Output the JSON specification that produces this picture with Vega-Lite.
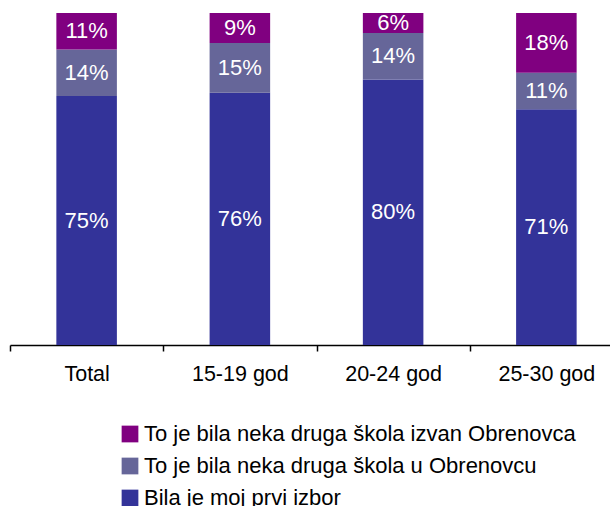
{
  "$schema": "https://vega.github.io/schema/vega-lite/v6.json",
  "width": 613,
  "height": 332,
  "autosize": {"type": "none"},
  "padding": {"left": 10, "top": 13, "right": 0, "bottom": 161},
  "config": {
    "font": "Liberation Sans",
    "view": {"stroke": null}
  },
  "data": {
    "values": [
      {"grupa": "Total", "odgovor": "Bila je moj prvi izbor", "red": 1, "udio": 0.75},
      {"grupa": "Total", "odgovor": "To je bila neka druga škola u Obrenovcu", "red": 2, "udio": 0.14},
      {"grupa": "Total", "odgovor": "To je bila neka druga škola izvan Obrenovca", "red": 3, "udio": 0.11},
      {"grupa": "15-19 god", "odgovor": "Bila je moj prvi izbor", "red": 1, "udio": 0.76},
      {"grupa": "15-19 god", "odgovor": "To je bila neka druga škola u Obrenovcu", "red": 2, "udio": 0.15},
      {"grupa": "15-19 god", "odgovor": "To je bila neka druga škola izvan Obrenovca", "red": 3, "udio": 0.09},
      {"grupa": "20-24 god", "odgovor": "Bila je moj prvi izbor", "red": 1, "udio": 0.80},
      {"grupa": "20-24 god", "odgovor": "To je bila neka druga škola u Obrenovcu", "red": 2, "udio": 0.14},
      {"grupa": "20-24 god", "odgovor": "To je bila neka druga škola izvan Obrenovca", "red": 3, "udio": 0.06},
      {"grupa": "25-30 god", "odgovor": "Bila je moj prvi izbor", "red": 1, "udio": 0.71},
      {"grupa": "25-30 god", "odgovor": "To je bila neka druga škola u Obrenovcu", "red": 2, "udio": 0.11},
      {"grupa": "25-30 god", "odgovor": "To je bila neka druga škola izvan Obrenovca", "red": 3, "udio": 0.18}
    ]
  },
  "encoding": {
    "x": {
      "field": "grupa",
      "type": "nominal",
      "sort": ["Total", "15-19 god", "20-24 god", "25-30 god"],
      "scale": {"paddingInner": 0, "paddingOuter": 0},
      "axis": {
        "title": null,
        "labelAngle": 0,
        "labelFontSize": 21.5,
        "labelColor": "#000000",
        "labelPadding": 12,
        "tickBand": "extent",
        "tickSize": 6,
        "tickColor": "#000000",
        "tickWidth": 1.5,
        "domainColor": "#000000",
        "domainWidth": 1.5
      }
    },
    "y": {
      "field": "udio",
      "type": "quantitative",
      "stack": "zero",
      "scale": {"domain": [0, 1]},
      "axis": null
    },
    "order": {"field": "red", "type": "quantitative"}
  },
  "layer": [
    {
      "mark": {"type": "bar", "width": {"band": 0.395}},
      "encoding": {
        "color": {
          "field": "odgovor",
          "type": "nominal",
          "scale": {
            "domain": ["To je bila neka druga škola izvan Obrenovca", "To je bila neka druga škola u Obrenovcu", "Bila je moj prvi izbor"],
            "range": ["#800080", "#666699", "#333399"]
          },
          "legend": {
            "title": null,
            "orient": "none",
            "legendX": 109,
            "legendY": 410,
            "direction": "vertical",
            "padding": 0,
            "symbolType": "square",
            "symbolSize": 280,
            "symbolStrokeWidth": 0,
            "symbolOpacity": 1,
            "labelFontSize": 22,
            "labelColor": "#000000",
            "labelOffset": 3,
            "labelLimit": 600,
            "rowPadding": 10
          }
        }
      }
    },
    {
      "mark": {"type": "text", "color": "#ffffff", "fontSize": 22, "baseline": "middle"},
      "encoding": {
        "y": {
          "field": "udio",
          "type": "quantitative",
          "stack": "zero",
          "bandPosition": 0.5
        },
        "text": {"field": "udio", "type": "quantitative", "format": ".0%"}
      }
    }
  ]
}
